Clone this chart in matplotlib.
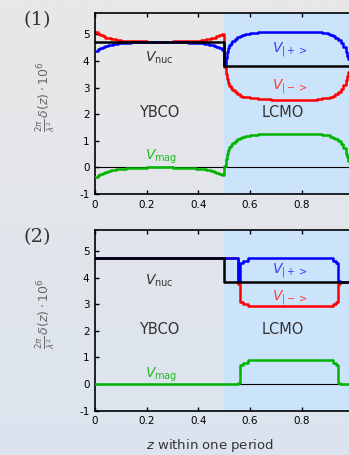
import numpy as np
import matplotlib
matplotlib.use("Agg")
import matplotlib.pyplot as plt
from matplotlib.colors import LinearSegmentedColormap

plt.rcParams["font.family"] = ["DejaVu Sans"]
plt.rcParams["mathtext.fontset"] = "dejavusans"
plt.rcParams["axes.unicode_minus"] = False

# =========================
# DATA
# =========================
# nuclear potential, step profile (steps-post)
z_nuc = [0.0, 0.5, 1.0]
v_nuc = [4.72, 3.82, 3.82]

# (1) magnetic potential, smooth interfaces
z_mag1 = [0.00, 0.01, 0.02, 0.03, 0.04, 0.05, 0.06, 0.07, 0.08, 0.09, 0.10,
          0.12, 0.14, 0.17, 0.20, 0.30, 0.33, 0.36, 0.39, 0.41, 0.42, 0.43,
          0.44, 0.45, 0.46, 0.47, 0.48, 0.49,
          0.500, 0.505, 0.510, 0.515, 0.520, 0.525, 0.530, 0.540, 0.550,
          0.560, 0.570, 0.580, 0.600, 0.630, 0.680, 0.860, 0.880, 0.900,
          0.910, 0.920, 0.930, 0.940, 0.950, 0.960, 0.970, 0.975, 0.980,
          0.990, 1.000]
v_mag1 = [-0.35, -0.29, -0.24, -0.20, -0.16, -0.13, -0.11, -0.09, -0.07, -0.055, -0.045,
          -0.03, -0.02, -0.01, 0.0, -0.01, -0.02, -0.03, -0.045, -0.055, -0.07, -0.09,
          -0.11, -0.13, -0.16, -0.20, -0.24, -0.30,
          0.05, 0.30, 0.50, 0.65, 0.76, 0.85, 0.92, 1.00, 1.07,
          1.12, 1.16, 1.19, 1.22, 1.25, 1.27, 1.25, 1.23, 1.20,
          1.16, 1.12, 1.06, 0.98, 0.87, 0.72, 0.52, 0.38, 0.25,
          0.08, 0.08]

# (2) magnetic potential, sharp interfaces
z_mag2 = [0.0, 0.553, 0.561, 0.573, 0.590, 0.921, 0.931, 0.939, 0.947, 1.0]
v_mag2 = [0.0, 0.05, 0.72, 0.80, 0.90, 0.80, 0.72, 0.05, 0.0, 0.0]

panels = [("(1)", z_mag1, v_mag1), ("(2)", z_mag2, v_mag2)]

# label positions per panel: (x, y)
lab_pos = [
    {"nuc": (0.25, 4.13), "mag": (0.255, 0.40), "plus": (0.755, 4.43), "minus": (0.755, 3.04)},
    {"nuc": (0.25, 3.88), "mag": (0.255, 0.33), "plus": (0.755, 4.25), "minus": (0.755, 3.26)},
]

# =========================
# FIGURE
# =========================
fig = plt.figure(figsize=(3.49, 4.55), dpi=100)

# gradient background
bg = fig.add_axes([0, 0, 1, 1], zorder=-10)
cmap = LinearSegmentedColormap.from_list("bg", ["#e8e8e8", "#e2e5ea", "#dbe4ef"])
bg.imshow(np.linspace(0, 1, 256).reshape(-1, 1), cmap=cmap, aspect="auto",
          extent=[0, 1, 0, 1], origin="upper")
bg.axis("off")

ax_rects = [[0.2722, 0.5736, 0.7407, 0.3978], [0.2722, 0.0974, 0.7407, 0.3978]]
fig_lab_y = [0.956, 0.479]

for i, (name, zm, vm) in enumerate(panels):
    ax = fig.add_axes(ax_rects[i])
    ax.set_facecolor("none")
    ax.axvspan(0.5, 1.0, color="#cce4fb", lw=0, zorder=0)

    zm = np.array(zm)
    vm = np.array(vm)
    idx = np.searchsorted(z_nuc, zm, side="right") - 1
    idx = np.clip(idx, 0, len(v_nuc) - 1)
    vn = np.array(v_nuc)[idx]

    ax.axhline(0, color="black", lw=0.8, zorder=1)
    ax.plot(zm, vn - vm, color="#ff0000", lw=1.8, drawstyle="steps-post", zorder=2)
    ax.plot(zm, vn + vm, color="#0000ff", lw=1.8, drawstyle="steps-post", zorder=3)
    ax.plot(z_nuc, v_nuc, color="black", lw=1.8, drawstyle="steps-post", zorder=4)
    ax.plot(zm, vm, color="#00b400", lw=1.8, drawstyle="steps-post", zorder=5)

    p = lab_pos[i]
    ax.text(*p["nuc"], r"$V_{\mathrm{nuc}}$", color="#333333", fontsize=10,
            ha="center", va="center")
    ax.text(*p["mag"], r"$V_{\mathrm{mag}}$", color="#22bb22", fontsize=10,
            ha="center", va="center")
    ax.text(*p["plus"], r"$V_{|+>}$", color="#3a3aff", fontsize=10,
            ha="center", va="center")
    ax.text(*p["minus"], r"$V_{|->}$", color="#ff3a3a", fontsize=10,
            ha="center", va="center")
    ax.text(0.25, 2.05, "YBCO", color="#333333", fontsize=10.5, ha="center", va="center")
    ax.text(0.725, 2.05, "LCMO", color="#333333", fontsize=10.5, ha="center", va="center")

    ax.set_xlim(0, 1)
    ax.set_ylim(-1, 5.8)
    ax.set_xticks([0, 0.2, 0.4, 0.6, 0.8])
    ax.set_xticklabels(["0", "0.2", "0.4", "0.6", "0.8"])
    ax.set_yticks(range(-1, 6))
    ax.tick_params(direction="in", top=True, right=False, length=3, width=1,
                   labelsize=7.5, colors="black", pad=4)
    for s in ax.spines.values():
        s.set_linewidth(1.2)

    ax.set_ylabel(r"$\frac{2\pi}{\lambda^2}\,\delta(z)\cdot 10^6$", color="#666666",
                  fontsize=9, va="center")
    ax.yaxis.set_label_coords(-0.19, 0.536)

    fig.text(0.107, fig_lab_y[i], name, fontsize=14, family="DejaVu Serif",
             color="#333333", ha="center", va="center")

    if i == 1:
        ax.set_xlabel(r"$z$ within one period", color="#333333", fontsize=9.5,
                      va="center")
        ax.xaxis.set_label_coords(0.445, -0.19)

plt.savefig("out.png", dpi=100)
